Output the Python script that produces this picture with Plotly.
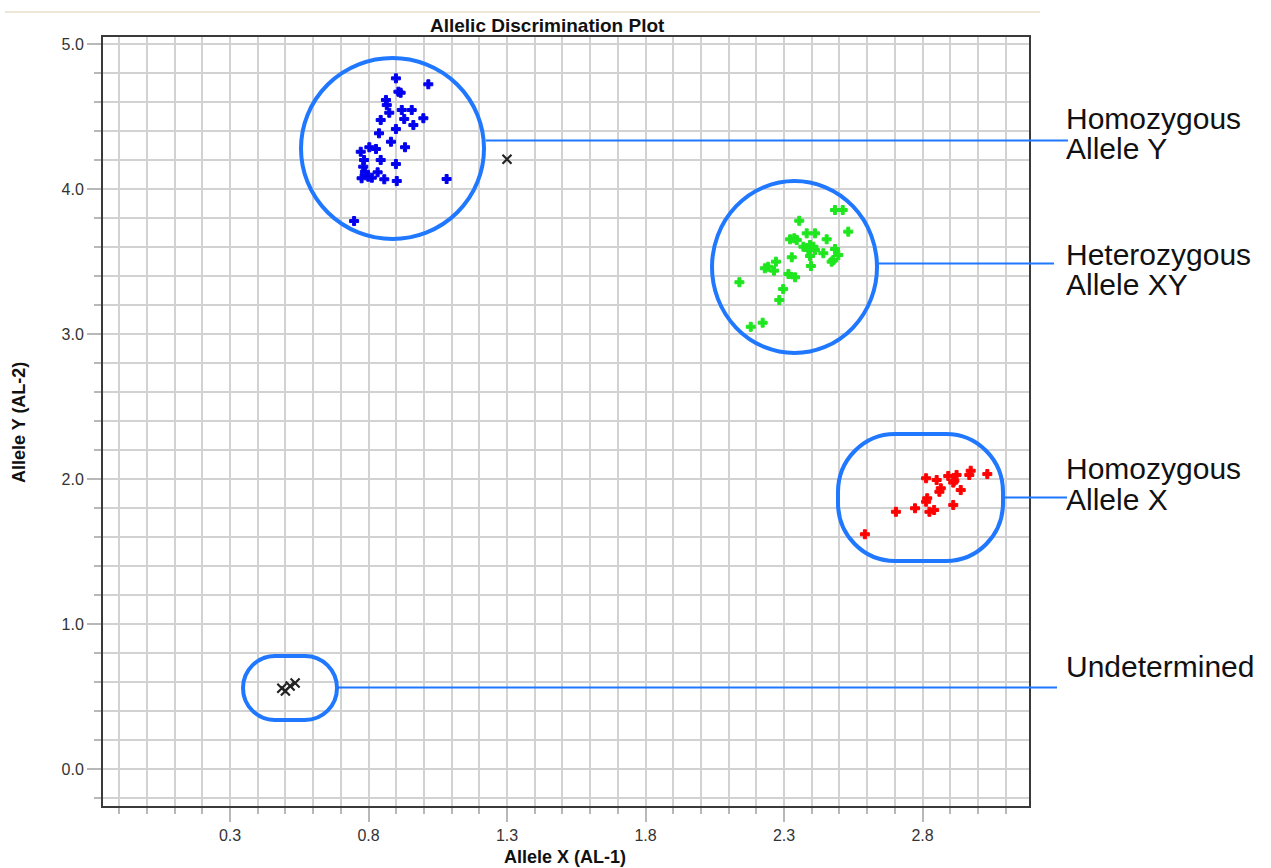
import plotly.graph_objects as go

# ---- Allelic discrimination data: AL-1 (Allele X) vs AL-2 (Allele Y) signal ----
allele_y_x = [0.899, 1.016, 0.908, 0.916, 0.863, 0.866, 0.875, 0.920, 0.956, 0.844,
              0.929, 0.998, 0.962, 0.899, 0.838, 0.881, 0.932, 0.772, 0.803, 0.827,
              0.784, 0.844, 0.899, 0.781, 0.787, 0.833, 0.775, 0.799, 0.812, 0.857,
              0.902, 1.082, 0.748]
allele_y_y = [4.763, 4.722, 4.671, 4.664, 4.614, 4.579, 4.526, 4.545, 4.545, 4.476,
              4.483, 4.488, 4.441, 4.414, 4.384, 4.326, 4.288, 4.257, 4.288, 4.276,
              4.200, 4.200, 4.172, 4.154, 4.119, 4.115, 4.074, 4.085, 4.078, 4.067,
              4.055, 4.069, 3.779]

allele_xy_x = [2.484, 2.512, 2.355, 2.532, 2.382, 2.412, 2.322, 2.337, 2.346, 2.454,
               2.370, 2.394, 2.406, 2.388, 2.412, 2.484, 2.442, 2.496, 2.328, 2.394,
               2.478, 2.472, 2.271, 2.243, 2.231, 2.264, 2.397, 2.316, 2.340, 2.139,
               2.297, 2.283, 2.180, 2.223]
allele_xy_y = [3.855, 3.855, 3.781, 3.706, 3.694, 3.694, 3.653, 3.660, 3.648, 3.653,
               3.602, 3.614, 3.602, 3.579, 3.579, 3.586, 3.557, 3.545, 3.529, 3.538,
               3.510, 3.499, 3.499, 3.464, 3.453, 3.437, 3.469, 3.414, 3.391, 3.357,
               3.310, 3.234, 3.050, 3.078]

allele_x_x = [2.974, 2.969, 3.034, 2.893, 2.923, 2.813, 2.851, 2.915, 2.911, 2.866,
              2.861, 2.938, 2.817, 2.813, 2.911, 2.773, 2.825, 2.842, 2.704, 2.592]
allele_x_y = [2.057, 2.028, 2.034, 2.021, 2.028, 2.005, 1.993, 1.988, 1.975, 1.936,
              1.912, 1.924, 1.867, 1.843, 1.821, 1.798, 1.774, 1.786, 1.774, 1.619]

undetermined_x = [0.487, 0.500, 0.517, 0.535, 1.300]
undetermined_y = [0.557, 0.538, 0.572, 0.593, 4.205]

x_tick_labels = ["0.3", "0.8", "1.3", "1.8", "2.3", "2.8"]
y_tick_labels = ["0.0", "1.0", "2.0", "3.0", "4.0", "5.0"]

# ---- page geometry (pixels) ----
W, H = 1271, 868
PL, PR, PT, PB = 103, 1029, 37, 806


def fx(p):
    return (p - PL) / (PR - PL)


def fy(p):
    return (PB - p) / (PB - PT)


RING = "#1f78ff"
FONT = "Liberation Sans, Arial, sans-serif"

fig = go.Figure()

cluster_colors = {"Allele Y": "#0000ee", "Allele XY": "#1ee61e", "Allele X": "#ff0000"}
for name, xs, ys in [("Allele Y", allele_y_x, allele_y_y),
                     ("Allele XY", allele_xy_x, allele_xy_y),
                     ("Allele X", allele_x_x, allele_x_y)]:
    c = cluster_colors[name]
    fig.add_trace(go.Scatter(x=xs, y=ys, mode="markers", name=name,
                             marker=dict(symbol="cross", size=7.5, color=c,
                                         line=dict(width=1, color=c))))
fig.add_trace(go.Scatter(x=undetermined_x, y=undetermined_y, mode="markers",
                         marker=dict(symbol="x-thin-open", size=9, color="#222222",
                                     line=dict(width=2.2, color="#222222")),
                         name="Undetermined"))

shapes = []


def ring(x0, y0, x1, y1):
    shapes.append(dict(type="circle", xref="paper", yref="paper",
                       x0=fx(x0), x1=fx(x1), y0=fy(y1), y1=fy(y0),
                       line=dict(color=RING, width=4)))


def rounded(x0, y0, x1, y1, rx, ry):
    k = 0.5523
    pts = []
    P = lambda a, b: f"{fx(a):.5f},{fy(b):.5f}"
    pts.append(f"M{P(x0 + rx, y0)}")
    pts.append(f"L{P(x1 - rx, y0)}")
    pts.append(f"C{P(x1 - rx + k * rx, y0)} {P(x1, y0 + ry - k * ry)} {P(x1, y0 + ry)}")
    pts.append(f"L{P(x1, y1 - ry)}")
    pts.append(f"C{P(x1, y1 - ry + k * ry)} {P(x1 - rx + k * rx, y1)} {P(x1 - rx, y1)}")
    pts.append(f"L{P(x0 + rx, y1)}")
    pts.append(f"C{P(x0 + rx - k * rx, y1)} {P(x0, y1 - ry + k * ry)} {P(x0, y1 - ry)}")
    pts.append(f"L{P(x0, y0 + ry)}")
    pts.append(f"C{P(x0, y0 + ry - k * ry)} {P(x0 + rx - k * rx, y0)} {P(x0 + rx, y0)}")
    pts.append("Z")
    shapes.append(dict(type="path", xref="paper", yref="paper", path=" ".join(pts),
                       line=dict(color=RING, width=4)))


def leader(x0, x1, y):
    shapes.append(dict(type="line", xref="paper", yref="paper",
                       x0=fx(x0), x1=fx(x1), y0=fy(y), y1=fy(y),
                       line=dict(color=RING, width=2)))


ring(301, 58, 484, 239)
ring(712, 181, 877, 353)
rounded(838, 434, 1003, 561, 57, 58)
rounded(243, 656, 337, 720, 32, 32)

leader(486, 1068, 140.5)
leader(876, 1054, 263.5)
leader(1003, 1067, 497.5)
leader(337, 1057, 687.5)

# thin rule above the chart title
shapes.append(dict(type="line", xref="paper", yref="paper",
                   x0=fx(5), x1=fx(1040), y0=fy(12), y1=fy(12),
                   line=dict(color="#ece7d6", width=2)))

annotations = []


def label(text, x, y, size=30, bold=False, color="#111111", xanchor="left", angle=0,
          family=FONT):
    annotations.append(dict(text=f"<b>{text}</b>" if bold else text,
                            xref="paper", yref="paper", x=fx(x), y=fy(y),
                            xanchor=xanchor, yanchor="middle", showarrow=False,
                            textangle=angle, borderpad=0,
                            font=dict(size=size, color=color, family=family)))


label("Homozygous", 1065, 118.5)
label("Allele Y", 1065, 148.5)
label("Heterozygous", 1065, 254.5)
label("Allele XY", 1065, 284.5)
label("Homozygous", 1065, 468.5)
label("Allele X", 1065, 499)
label("Undetermined", 1065, 666)

label("Allelic Discrimination Plot", 547, 25, size=19, bold=True, xanchor="center")
label("Allele X (AL-1)", 565, 857, size=18, bold=True, xanchor="center")
label("Allele Y (AL-2)", 19, 423, size=18, bold=True, xanchor="center", angle=-90)

GRID = "#d2d2d2"
TICK = "#b8b8b8"

fig.update_layout(
    width=W, height=H,
    margin=dict(l=PL, r=W - PR, t=PT, b=H - PB, pad=0),
    paper_bgcolor="white", plot_bgcolor="white",
    showlegend=False,
    shapes=shapes, annotations=annotations,
    font=dict(family=FONT),
)

x_vals = [float(v) for v in x_tick_labels]
y_vals = [float(v) for v in y_tick_labels]

fig.update_xaxes(
    range=[0.3 + (PL - 230) / 277, 0.3 + (PR - 230) / 277],
    tickmode="array", tickvals=x_vals, ticktext=x_tick_labels,
    ticks="outside", ticklen=14, tickwidth=1.5, tickcolor=TICK,
    showgrid=True, gridcolor=GRID, gridwidth=1.5,
    minor=dict(dtick=0.1, tick0=0, ticks="outside", ticklen=6, tickwidth=1.5,
               tickcolor=TICK, showgrid=True, gridcolor=GRID, gridwidth=1.5),
    showline=True, linecolor="#3a3a3a", linewidth=2, mirror=True,
    zeroline=False,
    tickfont=dict(size=16, color="#333333", family=FONT),
)
fig.update_yaxes(
    range=[(769 - PB) / 145, (769 - PT) / 145],
    tickmode="array", tickvals=y_vals, ticktext=y_tick_labels,
    ticks="outside", ticklen=14, tickwidth=1.5, tickcolor=TICK,
    showgrid=True, gridcolor=GRID, gridwidth=1.5,
    minor=dict(dtick=0.2, tick0=0, ticks="outside", ticklen=7, tickwidth=1.5,
               tickcolor=TICK, showgrid=True, gridcolor=GRID, gridwidth=1.5),
    showline=True, linecolor="#3a3a3a", linewidth=2, mirror=True,
    zeroline=False,
    tickfont=dict(size=16, color="#333333", family=FONT),
)

fig.write_html("out.html")
